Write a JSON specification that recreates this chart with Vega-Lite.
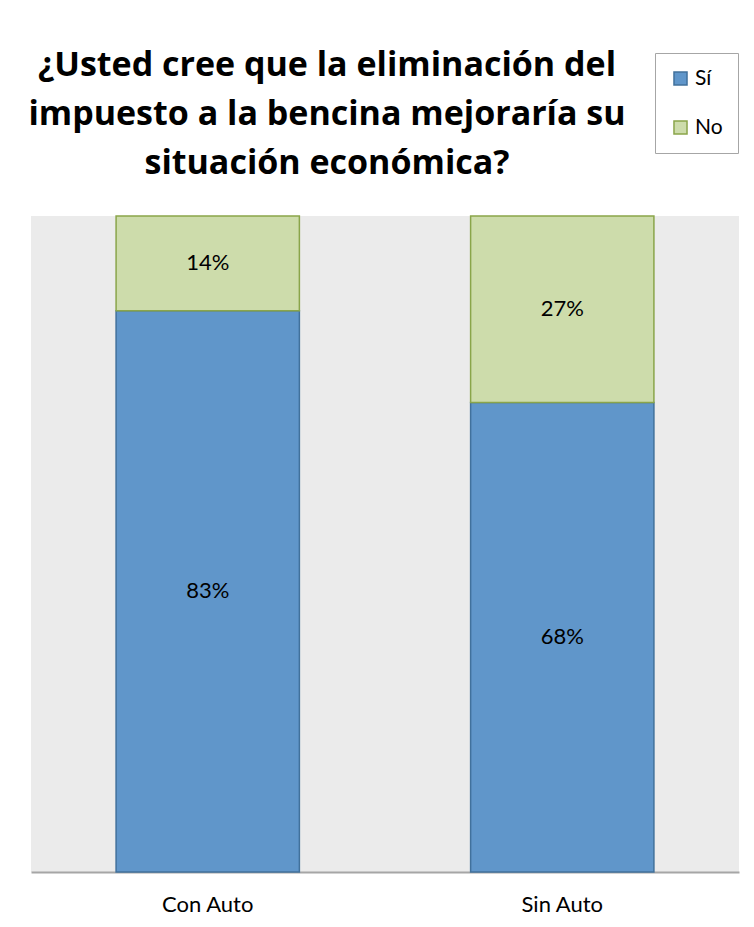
{
  "$schema": "https://vega.github.io/schema/vega-lite/v6.json",
  "width": 708,
  "height": 656,
  "autosize": {"type": "none"},
  "padding": {"left": 31, "top": 216, "right": 15, "bottom": 55},
  "background": "white",
  "title": {
    "text": ["¿Usted cree que la eliminación del", "impuesto a la bencina mejoraría su", "situación económica?"],
    "font": "Open Sans",
    "fontSize": 34,
    "fontWeight": "bold",
    "color": "#000000",
    "lineHeight": 49,
    "anchor": "middle",
    "dx": -58,
    "offset": -128
  },
  "data": {
    "values": [
      {"grupo": "Con Auto", "respuesta": "Sí", "orden": 1, "valor": 0.83},
      {"grupo": "Con Auto", "respuesta": "No", "orden": 2, "valor": 0.14},
      {"grupo": "Sin Auto", "respuesta": "Sí", "orden": 1, "valor": 0.68},
      {"grupo": "Sin Auto", "respuesta": "No", "orden": 2, "valor": 0.27}
    ]
  },
  "transform": [
    {"stack": "valor", "groupby": ["grupo"], "sort": [{"field": "orden"}], "offset": "normalize", "as": ["v0", "v1"]},
    {"calculate": "(datum.v0 + datum.v1) / 2", "as": "mid"}
  ],
  "encoding": {
    "x": {
      "field": "grupo",
      "type": "nominal",
      "sort": ["Con Auto", "Sin Auto"],
      "scale": {"paddingInner": 0.483, "paddingOuter": 0.24},
      "axis": {
        "title": null,
        "labelAngle": 0,
        "labelFont": "Lato",
        "labelFontSize": 22,
        "labelColor": "#000000",
        "labelPadding": 22,
        "ticks": false,
        "domainColor": "#a6a6a6",
        "domainWidth": 2
      }
    }
  },
  "layer": [
    {
      "mark": {"type": "bar", "strokeWidth": 1.5},
      "encoding": {
        "y": {"field": "v0", "type": "quantitative", "scale": {"domain": [0, 1]}, "axis": null},
        "y2": {"field": "v1"},
        "fill": {
          "field": "respuesta",
          "type": "nominal",
          "sort": ["Sí", "No"],
          "scale": {"domain": ["Sí", "No"], "range": ["#6096ca", "#cddcab"]},
          "legend": {"title": null}
        },
        "stroke": {
          "field": "respuesta",
          "type": "nominal",
          "sort": ["Sí", "No"],
          "scale": {"domain": ["Sí", "No"], "range": ["#41719c", "#8aa54a"]},
          "legend": {"title": null}
        }
      }
    },
    {
      "mark": {"type": "text", "font": "Lato", "fontSize": 22, "color": "#000000", "baseline": "middle", "align": "center"},
      "encoding": {
        "y": {"field": "mid", "type": "quantitative"},
        "text": {"field": "valor", "type": "quantitative", "format": ".0%"}
      }
    }
  ],
  "config": {
    "view": {"fill": "#ebebeb", "stroke": null},
    "legend": {
      "orient": "none",
      "legendX": 624,
      "legendY": -163,
      "direction": "vertical",
      "strokeColor": "#a6a6a6",
      "padding": 15,
      "symbolType": "square",
      "symbolSize": 170,
      "symbolStrokeWidth": 1.5,
      "labelFont": "Lato",
      "labelFontSize": 21,
      "labelColor": "#000000",
      "rowPadding": 27,
      "labelOffset": 4
    }
  }
}
